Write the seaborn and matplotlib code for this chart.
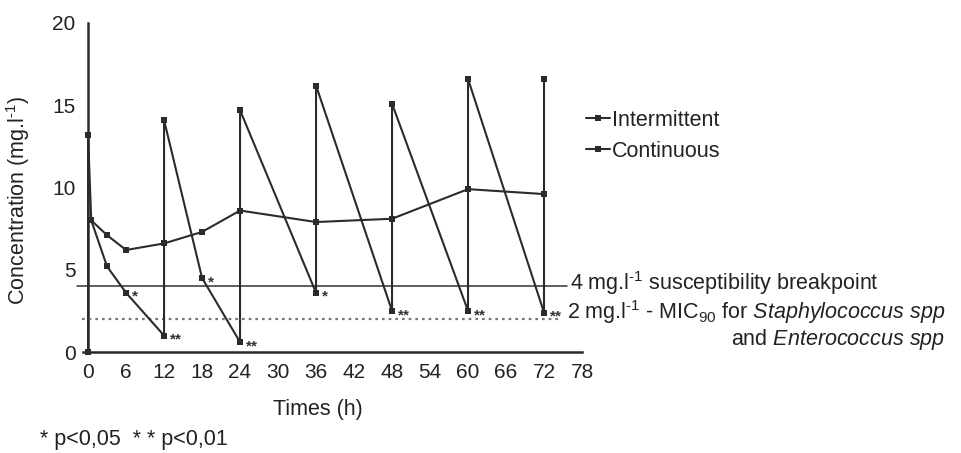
import matplotlib
matplotlib.use("Agg")
import matplotlib.pyplot as plt
import seaborn as sns
import pandas as pd

# ---- data ----
intermittent_t = [0, 0, 0.5, 3, 6, 12, 12, 18, 24, 24, 36, 36, 48, 48, 60, 60, 72, 72]
intermittent_c = [0, 13.2, 8.0, 5.2, 3.6, 1.0, 14.1, 4.5, 0.6, 14.7, 3.6, 16.2, 2.5, 15.1, 2.5, 16.6, 2.4, 16.6]
continuous_t = [0.5, 3, 6, 12, 18, 24, 36, 48, 60, 72]
continuous_c = [8.0, 7.1, 6.2, 6.6, 7.3, 8.6, 7.9, 8.1, 9.9, 9.6]
trough_t = [6, 12, 18, 24, 36, 48, 60, 72]
trough_c = [3.6, 1.0, 4.5, 0.6, 3.6, 2.5, 2.5, 2.4]
trough_sig = ["*", "**", "*", "**", "*", "**", "**", "**"]
x_ticks = list(range(0, 79, 6))
y_ticks = [0, 5, 10, 15, 20]
breakpoint_level = 4
mic_level = 2

sns.set_theme(style="white")
plt.rcParams["font.family"] = ["Liberation Sans", "DejaVu Sans"]
plt.rcParams["mathtext.fontset"] = "custom"
plt.rcParams["mathtext.rm"] = "Liberation Sans"
plt.rcParams["mathtext.it"] = "Liberation Sans:italic"
plt.rcParams["text.color"] = "#222222"
plt.rcParams["axes.labelcolor"] = "#222222"
plt.rcParams["xtick.color"] = "#222222"
plt.rcParams["ytick.color"] = "#222222"

FS = 15.5
W, H = 961, 453
fig = plt.figure(figsize=(W / 100, H / 100), dpi=100)
ax = fig.add_axes([83 / W, 101 / H, 499 / W, 329 / H])

line_col = "#2b2b2b"
df_i = pd.DataFrame({"t": intermittent_t, "c": intermittent_c})
df_c = pd.DataFrame({"t": continuous_t, "c": continuous_c})
sns.lineplot(data=df_i, x="t", y="c", sort=False, estimator=None, ax=ax,
             color=line_col, lw=1.5, marker="s", markersize=4,
             markeredgewidth=0, label="Intermittent", clip_on=False, zorder=4)
sns.lineplot(data=df_c, x="t", y="c", sort=False, estimator=None, ax=ax,
             color=line_col, lw=1.5, marker="s", markersize=4,
             markeredgewidth=0, label="Continuous", clip_on=False, zorder=4)

# threshold lines
ax.plot([-1.7, 75.7], [breakpoint_level] * 2, color="#333333", lw=1.1,
        clip_on=False, zorder=3)
ax.plot([-1.0, 74.6], [mic_level] * 2, color="#777777", lw=1.6,
        linestyle=(0, (1.2, 1.8)), clip_on=False, zorder=3)

# significance marks
for t, c, s in zip(trough_t, trough_c, trough_sig):
    ax.annotate(s, xy=(t, c), xytext=(4, -3), textcoords="offset points",
                fontsize=11, fontweight="bold", color="#333333",
                ha="left", va="center")

ax.set_xlim(-0.8, 78)
ax.set_ylim(0, 20)
ax.set_xticks(x_ticks)
ax.set_yticks(y_ticks)
ax.spines["left"].set_position(("data", 0))
ax.spines["top"].set_visible(False)
ax.spines["right"].set_visible(False)
for sp in ("left", "bottom"):
    ax.spines[sp].set_linewidth(1.8)
    ax.spines[sp].set_color("#2b2b2b")
ax.tick_params(axis="x", direction="in", length=4, width=1.2, pad=8, labelsize=15)
ax.tick_params(axis="y", direction="out", length=3, width=1.2, pad=6, labelsize=15)
ax.set_xlabel("")
ax.set_ylabel("")

sup = r"$^{\text{-1}}$"
fig.text(318 / W, 1 - 409 / H, "Times (h)", fontsize=FS, ha="center", va="center")
fig.text(18 / W, 1 - 200 / H, "Concentration (mg.l" + sup + ")",
         fontsize=FS, ha="center", va="center", rotation=90)
fig.text(40 / W, 1 - 440 / H, "* p<0,05  * * p<0,01", fontsize=FS,
         ha="left", va="center")

ax.annotate("4 mg.l" + sup + " susceptibility breakpoint",
            xy=(570 / W, breakpoint_level), xycoords=("figure fraction", "data"),
            xytext=(0, 2), textcoords="offset points",
            fontsize=FS, ha="left", va="center")
ax.annotate("2 mg.l" + sup + r" - MIC$_{\mathregular{90}}$ for $\mathit{Staphylococcus\ spp}$",
            xy=(567 / W, mic_level), xycoords=("figure fraction", "data"),
            xytext=(0, 5), textcoords="offset points",
            fontsize=FS, ha="left", va="center")
ax.annotate(r"and $\mathit{Enterococcus\ spp}$",
            xy=(945 / W, mic_level), xycoords=("figure fraction", "data"),
            xytext=(0, -15), textcoords="offset points",
            fontsize=FS, ha="right", va="center")

leg = ax.legend(loc="upper left", bbox_to_anchor=(586 / W, 1 - 110 / H),
                bbox_transform=fig.transFigure, frameon=False, fontsize=FS,
                handlelength=1.1, handletextpad=0.1, labelspacing=0.45,
                borderpad=0, borderaxespad=0)

fig.savefig("out.png", dpi=100, facecolor="white")
